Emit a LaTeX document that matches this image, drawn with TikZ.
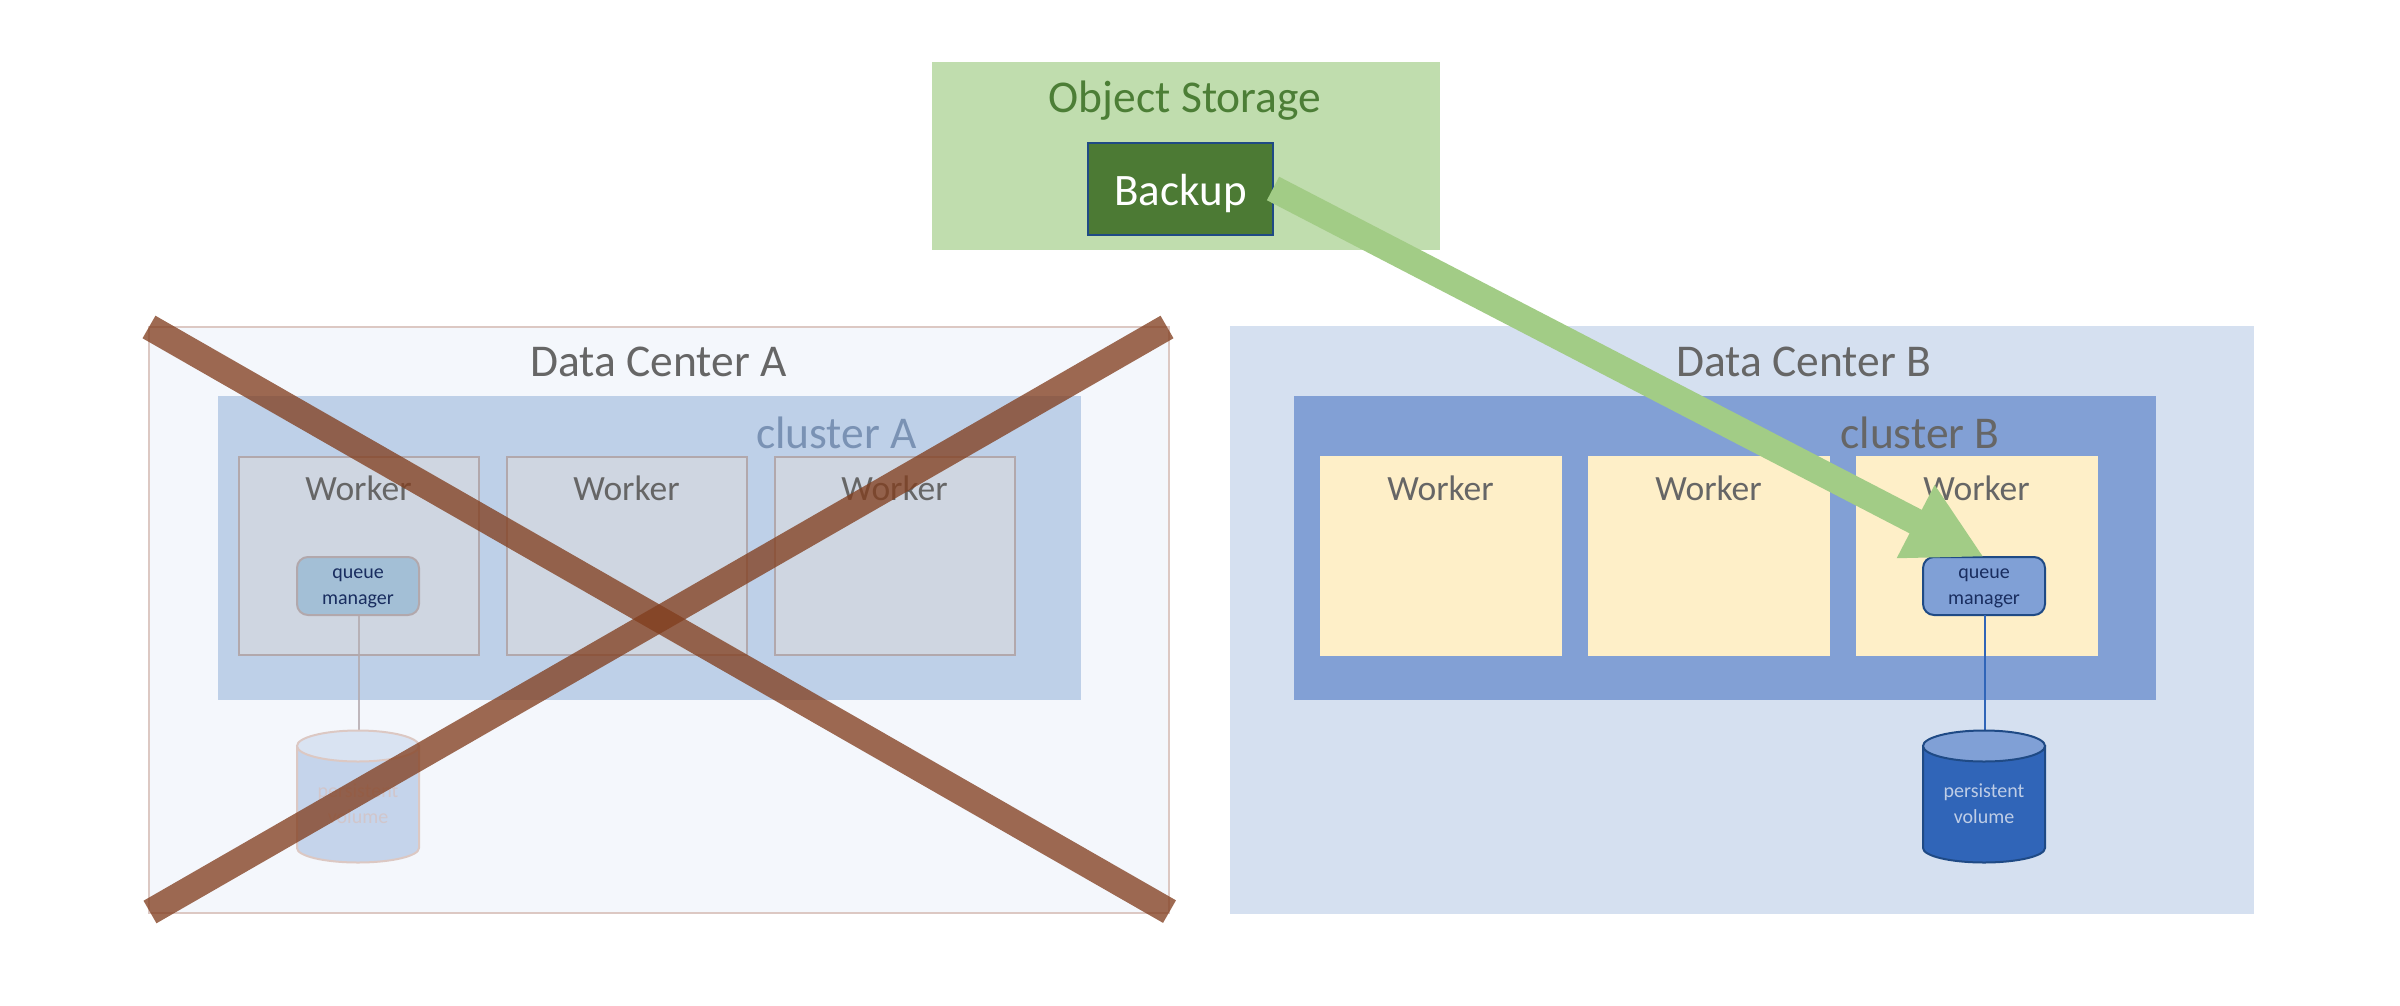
\documentclass[tikz,border=0pt]{standalone}
\usepackage{fontspec}
\setmainfont{Carlito}
\usetikzlibrary{arrows.meta,shapes.geometric}
\definecolor{dcA}{RGB}{244,247,252}
\definecolor{dcAline}{RGB}{220,200,195}
\definecolor{clA}{RGB}{190,208,232}
\definecolor{wkA}{RGB}{207,214,225}
\definecolor{wkAline}{RGB}{178,168,172}
\definecolor{qmA}{RGB}{163,191,214}
\definecolor{cylA}{RGB}{197,212,235}
\definecolor{cylAtop}{RGB}{217,227,242}
\definecolor{lineA}{RGB}{214,192,190}
\definecolor{greyT}{RGB}{102,102,102}
\definecolor{clAT}{RGB}{122,146,180}
\definecolor{dcB}{RGB}{213,224,240}
\definecolor{clB}{RGB}{130,160,213}
\definecolor{wkB}{RGB}{254,239,200}
\definecolor{qmB}{RGB}{128,160,214}
\definecolor{dkblue}{RGB}{31,74,133}
\definecolor{cylB}{RGB}{48,101,184}
\definecolor{pvT}{RGB}{190,205,230}
\definecolor{navyT}{RGB}{25,45,95}
\definecolor{osFill}{RGB}{192,221,174}
\definecolor{osT}{RGB}{76,126,54}
\definecolor{bkFill}{RGB}{76,122,52}
\definecolor{arrowG}{RGB}{162,204,134}
\definecolor{crossC}{RGB}{130,62,30}
\newcommand{\qmtext}{\rule{0pt}{14pt}queue\\manager}
\tikzset{
  x=1pt,y=-1pt,
  box/.style={rectangle,inner sep=0pt,outer sep=0pt,minimum width=#1},
  title/.style={inner sep=0pt,outer sep=0pt,text=greyT,font=\fontsize{45.5}{45.5}\selectfont},
  workerT/.style={inner sep=0pt,outer sep=0pt,text=greyT,font=\fontsize{35.5}{35.5}\selectfont},
  qmbox/.style={rectangle,rounded corners=11pt,inner sep=0pt,outer sep=0pt,minimum width=122pt,minimum height=58pt,align=center,text=navyT,font=\fontsize{20}{26}\selectfont},
  pvtext/.style={inner sep=0pt,outer sep=0pt,align=center,font=\fontsize{20}{26}\selectfont},
  cylbody/.style={line width=2pt},
  crossline/.style={line width=26pt,draw=crossC,opacity=0.77},
}
\begin{document}
\begin{tikzpicture}
\useasboundingbox[fill=white] (0,0) rectangle (2400,1006);
% Data center A
\node[box=1020pt,minimum height=586pt,fill=dcA,draw=dcAline,line width=2pt] (dca) at (659,620) {};
\node[title] (dcaT) at (658.5,362) {Data Center A};
\node[box=863pt,minimum height=304pt,fill=clA] (cla) at (649.5,548) {};
\node[title,text=clAT] (claT) at (836.5,433) {cluster A};
\foreach \n/\x in {1/359,2/627,3/895}{
  \node[box=240pt,minimum height=198pt,fill=wkA,draw=wkAline,line width=2pt] (wa\n) at (\x,556) {};
  \node[workerT] (waT\n) at (\x-0.5,488) {Worker};
}
\node[qmbox,fill=qmA,draw=wkAline,line width=2pt] (qma) at (358,586) {\qmtext};
\coordinate (pvaTop) at (359,731);
\draw[wkAline,line width=1.5pt,opacity=0.8] (qma.south -| pvaTop) -- (pvaTop);
\draw[cylbody,fill=cylA,draw=dcAline] (297,746) -- (297,848) arc[start angle=180,end angle=360,x radius=61,y radius=-14.5] -- (419,746) -- cycle;
\draw[cylbody,fill=cylAtop,draw=dcAline] (358,746) ellipse[x radius=61,y radius=15.5];
\node[pvtext,text=lineA!70!cylA] (pva) at (358,804) {persistent\\volume};
% Data center B
\node[box=1024pt,minimum height=588pt,fill=dcB] (dcb) at (1741.8,620) {};
\node[title] (dcbT) at (1803.5,362) {Data Center B};
\node[box=862pt,minimum height=304pt,fill=clB] (clb) at (1725,548) {};
\node[title] (clbT) at (1920,433) {cluster B};
\foreach \n/\x in {1/1441,2/1709,3/1977}{
  \node[box=242pt,minimum height=200pt,fill=wkB] (wb\n) at (\x,556) {};
  \node[workerT] (wbT\n) at (\x-0.5,488) {Worker};
}
\node[qmbox,fill=qmB,draw=dkblue,line width=2pt] (qmb) at (1984,586) {\qmtext};
\coordinate (pvbTop) at (1985,731);
\draw[cylB,line width=1.5pt] (qmb.south -| pvbTop) -- (pvbTop);
\draw[cylbody,fill=cylB,draw=dkblue] (1923,746) -- (1923,848) arc[start angle=180,end angle=360,x radius=61,y radius=-14.5] -- (2045,746) -- cycle;
\draw[cylbody,fill=qmB,draw=dkblue] (1984,746) ellipse[x radius=61,y radius=15.5];
\node[pvtext,text=pvT] (pvb) at (1984,804) {persistent\\volume};
% Object storage
\node[box=508pt,minimum height=188pt,fill=osFill] (os) at (1186,156) {};
\node[inner sep=0pt,text=osT,font=\fontsize{45.5}{45.5}\selectfont] (osT) at (1185,101) {Object Storage};
\node[box=185pt,minimum height=92pt,fill=bkFill,draw=dkblue,line width=2pt,text=white,font=\fontsize{45}{45}\selectfont] (bk) at (1180.5,189) {\rule{0pt}{40pt}Backup};
% Restore arrow
\coordinate (arrowStart) at (1273,188.5);
\draw[line width=26.5pt,draw=arrowG,-{Triangle[length=77pt,width=76.5pt,fill=arrowG]}] (arrowStart) -- (qmb.north);
% Cross over data center A
\coordinate (c1a) at (149,327);
\coordinate (c1b) at (1169.5,911.6);
\coordinate (c2a) at (150,912);
\coordinate (c2b) at (1167,327);
\draw[crossline] (c1a) -- (c1b);
\draw[crossline] (c2a) -- (c2b);
\end{tikzpicture}
\end{document}
